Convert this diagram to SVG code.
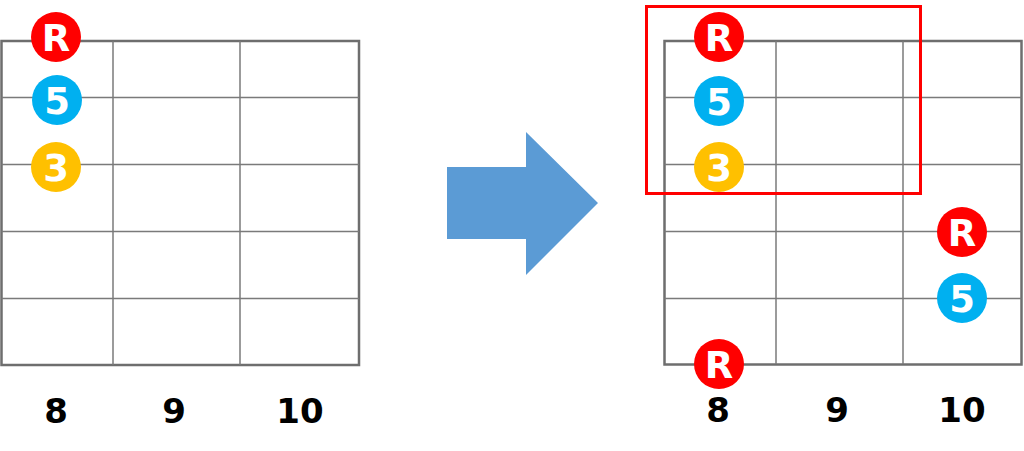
<svg xmlns="http://www.w3.org/2000/svg" width="1024" height="451" viewBox="0 0 1024 451">
<style>
.bg{fill:#ffffff}
.frame{fill:none;stroke:#6e6e6e;stroke-width:2.5}
.line{stroke:#7a7a7a;stroke-width:1.5}
.note{font-family:"DejaVu Sans","Liberation Sans",sans-serif;font-weight:bold;text-anchor:middle;fill:#ffffff;font-size:37px}
.fret{font-family:"DejaVu Sans","Liberation Sans",sans-serif;font-weight:bold;font-size:34px;fill:#000;text-anchor:middle}
.r{fill:#ff0000}.f{fill:#00b0f0}.t{fill:#ffc000}
</style>
<rect class="bg" width="1024" height="451"/>
<g id="grid-left">
<rect class="frame" x="1.5" y="41" width="357.5" height="324"/>
<line class="line" x1="113" y1="41" x2="113" y2="365"/>
<line class="line" x1="240" y1="41" x2="240" y2="365"/>
<line class="line" x1="1.5" y1="97.5" x2="359" y2="97.5"/>
<line class="line" x1="1.5" y1="164.5" x2="359" y2="164.5"/>
<line class="line" x1="1.5" y1="231.5" x2="359" y2="231.5"/>
<line class="line" x1="1.5" y1="298.5" x2="359" y2="298.5"/>
</g>
<g id="grid-right">
<rect class="frame" x="664.5" y="41" width="357" height="323.5"/>
<line class="line" x1="776" y1="41" x2="776" y2="364"/>
<line class="line" x1="903" y1="41" x2="903" y2="364"/>
<line class="line" x1="664.5" y1="97.5" x2="1021.5" y2="97.5"/>
<line class="line" x1="664.5" y1="164.5" x2="1021.5" y2="164.5"/>
<line class="line" x1="664.5" y1="231.5" x2="1021.5" y2="231.5"/>
<line class="line" x1="664.5" y1="298.5" x2="1021.5" y2="298.5"/>
</g>
<g id="highlight">
<rect x="646.5" y="6.5" width="274" height="187" fill="none" stroke="#ff0000" stroke-width="3"/>
</g>
<g id="connectors">
<polygon points="447,167 526,167 526,132 598,203 526,275 526,239 447,239" fill="#5b9bd5"/>
</g>
<g id="left-R"><circle class="r" cx="56" cy="37" r="25"/><text class="note" x="56" y="50.5">R</text></g>
<g id="left-5"><circle class="f" cx="57" cy="100" r="25"/><text class="note" x="57" y="113.5">5</text></g>
<g id="left-3"><circle class="t" cx="56" cy="167" r="25"/><text class="note" x="56" y="180.5">3</text></g>
<g id="right-R1"><circle class="r" cx="719" cy="37" r="25"/><text class="note" x="719" y="50.5">R</text></g>
<g id="right-5a"><circle class="f" cx="719" cy="101" r="25"/><text class="note" x="719" y="114.5">5</text></g>
<g id="right-3"><circle class="t" cx="719" cy="167" r="25"/><text class="note" x="719" y="180.5">3</text></g>
<g id="right-R2"><circle class="r" cx="962" cy="232" r="25"/><text class="note" x="962" y="245.5">R</text></g>
<g id="right-5b"><circle class="f" cx="962" cy="298" r="25"/><text class="note" x="962" y="311.5">5</text></g>
<g id="right-R3"><circle class="r" cx="719" cy="364" r="25"/><text class="note" x="719" y="377.5">R</text></g>
<g id="labels">
<text class="fret" x="56" y="423">8</text>
<text class="fret" x="174" y="423">9</text>
<text class="fret" x="300" y="423">10</text>
<text class="fret" x="718" y="422">8</text>
<text class="fret" x="837" y="422">9</text>
<text class="fret" x="962" y="422">10</text>
</g>
</svg>
